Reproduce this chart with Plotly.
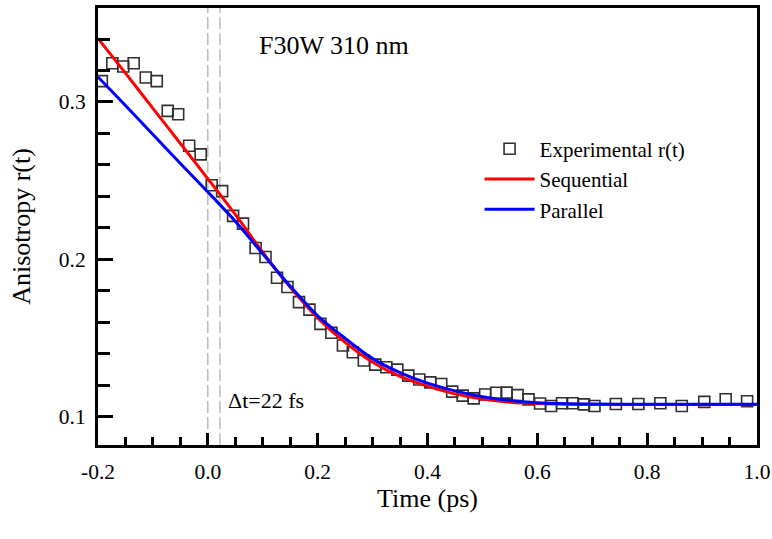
import plotly.graph_objects as go

# Experimental anisotropy r(t)
exp_t = [-0.193, -0.174, -0.154, -0.135, -0.113, -0.093, -0.073, -0.054, -0.034, -0.013,
         0.007, 0.026, 0.046, 0.064, 0.087, 0.105, 0.126, 0.145, 0.166, 0.185, 0.205,
         0.225, 0.246, 0.264, 0.284, 0.305, 0.325, 0.345, 0.365, 0.385, 0.405, 0.425,
         0.445, 0.464, 0.484, 0.505, 0.525, 0.544, 0.564, 0.584, 0.605, 0.625, 0.645,
         0.664, 0.685, 0.704, 0.743, 0.784, 0.824, 0.863, 0.904, 0.943, 0.982]
exp_r = [0.3132, 0.3246, 0.3225, 0.3246, 0.3155, 0.3132, 0.2943, 0.2922, 0.2722, 0.2667,
         0.2471, 0.2433, 0.2276, 0.2227, 0.2072, 0.2015, 0.1883, 0.1824, 0.1728, 0.1680,
         0.1590, 0.1533, 0.1452, 0.1409, 0.1357, 0.1331, 0.1314, 0.1299, 0.1261, 0.1236,
         0.1218, 0.1208, 0.1159, 0.1134, 0.1116, 0.1141, 0.1152, 0.1153, 0.1137, 0.1110,
         0.1084, 0.1068, 0.1085, 0.1085, 0.1078, 0.1068, 0.1081, 0.1081, 0.1085, 0.1068,
         0.1094, 0.1111, 0.1098]

# Sequential model fit
seq_t = [-0.2, -0.15, -0.1, -0.05, 0.0, 0.05, 0.1, 0.15, 0.2, 0.25, 0.3, 0.35, 0.4,
         0.45, 0.5, 0.55, 0.6, 0.7, 0.8, 0.9, 1.0]
seq_r = [0.3404, 0.3183, 0.2959, 0.2736, 0.2512, 0.2285, 0.2045, 0.1822, 0.1628, 0.1472,
         0.1346, 0.1256, 0.1194, 0.1145, 0.1112, 0.1092, 0.1083, 0.1078, 0.1078, 0.1078,
         0.1078]

# Parallel model fit
par_t = [-0.2, -0.15, -0.1, -0.05, 0.0, 0.05, 0.1, 0.15, 0.2, 0.25, 0.3, 0.35, 0.4,
         0.45, 0.5, 0.55, 0.6, 0.7, 0.8, 0.9, 1.0]
par_r = [0.3159, 0.2977, 0.2793, 0.2609, 0.2428, 0.2242, 0.2035, 0.1829, 0.1641, 0.1498,
         0.1369, 0.1280, 0.1213, 0.1164, 0.1127, 0.1103, 0.1089, 0.1080, 0.1079, 0.1079,
         0.1079]

marker_times = [0.0, 0.022]

x_ticks = [-0.2, 0.0, 0.2, 0.4, 0.6, 0.8, 1.0]
x_tick_labels = ["-0.2", "0.0", "0.2", "0.4", "0.6", "0.8", "1.0"]
y_ticks = [0.1, 0.2, 0.3]
y_tick_labels = ["0.1", "0.2", "0.3"]
y_minor_ticks = [0.08, 0.12, 0.14, 0.16, 0.18, 0.22, 0.24, 0.26, 0.28, 0.32, 0.34]

FONT = "Liberation Serif"

fig = go.Figure()
fig.add_trace(go.Scatter(
    x=exp_t, y=exp_r, mode="markers", name="Experimental r(t)",
    marker=dict(symbol="square-open", size=11, color="#303030", line=dict(width=1.6, color="#303030")),
    legendgroup="a"))
fig.add_trace(go.Scatter(
    x=seq_t, y=seq_r, mode="lines", name="Sequential",
    line=dict(color="#ff0000", width=3, shape="spline", smoothing=0.8), legendgroup="b"))
fig.add_trace(go.Scatter(
    x=par_t, y=par_r, mode="lines", name="Parallel",
    line=dict(color="#0000ff", width=3, shape="spline", smoothing=0.8), legendgroup="c"))

for t in marker_times:
    fig.add_shape(type="line", xref="x", yref="paper", x0=t, x1=t, y0=0, y1=1,
                  line=dict(color="#aaaaaa", width=1.2, dash="12px,4px"), layer="below")

fig.add_annotation(x=0.089, y=0.3361, xref="x", yref="y", text="F30W 310 nm",
                   showarrow=False, xanchor="left", yanchor="middle",
                   font=dict(family=FONT, size=26, color="black"))
fig.add_annotation(x=0.0333, y=0.110, xref="x", yref="y", text="Δt=22 fs",
                   showarrow=False, xanchor="left", yanchor="middle",
                   font=dict(family=FONT, size=22, color="black"))

fig.update_layout(
    width=772, height=539,
    margin=dict(l=98, r=15, t=8, b=94),
    plot_bgcolor="white", paper_bgcolor="white",
    font=dict(family=FONT, size=22, color="black"),
    showlegend=True,
    legend=dict(x=0.579, y=0.724, xanchor="left", yanchor="top",
                bgcolor="rgba(0,0,0,0)", font=dict(family=FONT, size=21),
                itemwidth=50, tracegroupgap=0, traceorder="grouped"),
    xaxis=dict(range=[-0.2, 1.0], tickvals=x_ticks, ticktext=x_tick_labels, automargin=False,
               showgrid=False, zeroline=False, showline=True, linecolor="black", linewidth=3,
               mirror=True, ticks="inside", ticklen=12, tickwidth=2.5, tickcolor="black",
               minor=dict(dtick=0.05, ticks="inside", ticklen=8, tickwidth=2.5, tickcolor="black"),
               ticklabelstandoff=5, tickfont=dict(family=FONT, size=21.5),
               title=dict(text="Time (ps)", font=dict(family=FONT, size=26), standoff=1)),
    yaxis=dict(range=[0.082, 0.3597], tickvals=y_ticks, ticktext=y_tick_labels, automargin=False,
               showgrid=False, zeroline=False, showline=True, linecolor="black", linewidth=3,
               mirror=True, ticks="inside", ticklen=15, tickwidth=2.5, tickcolor="black",
               minor=dict(tickvals=y_minor_ticks,
                          ticks="inside", ticklen=12, tickwidth=2.5, tickcolor="black"),
               ticklabelstandoff=5, tickfont=dict(family=FONT, size=21.5),
               title=dict(text="Anisotropy r(t)", font=dict(family=FONT, size=26), standoff=21)),
)

# remove the browser's default 8px page margin so the 772x539 figure fills the window exactly
fig.write_html("out.html", config={"displayModeBar": False},
               post_script="document.body.style.margin='0';document.body.style.overflow='hidden';")
